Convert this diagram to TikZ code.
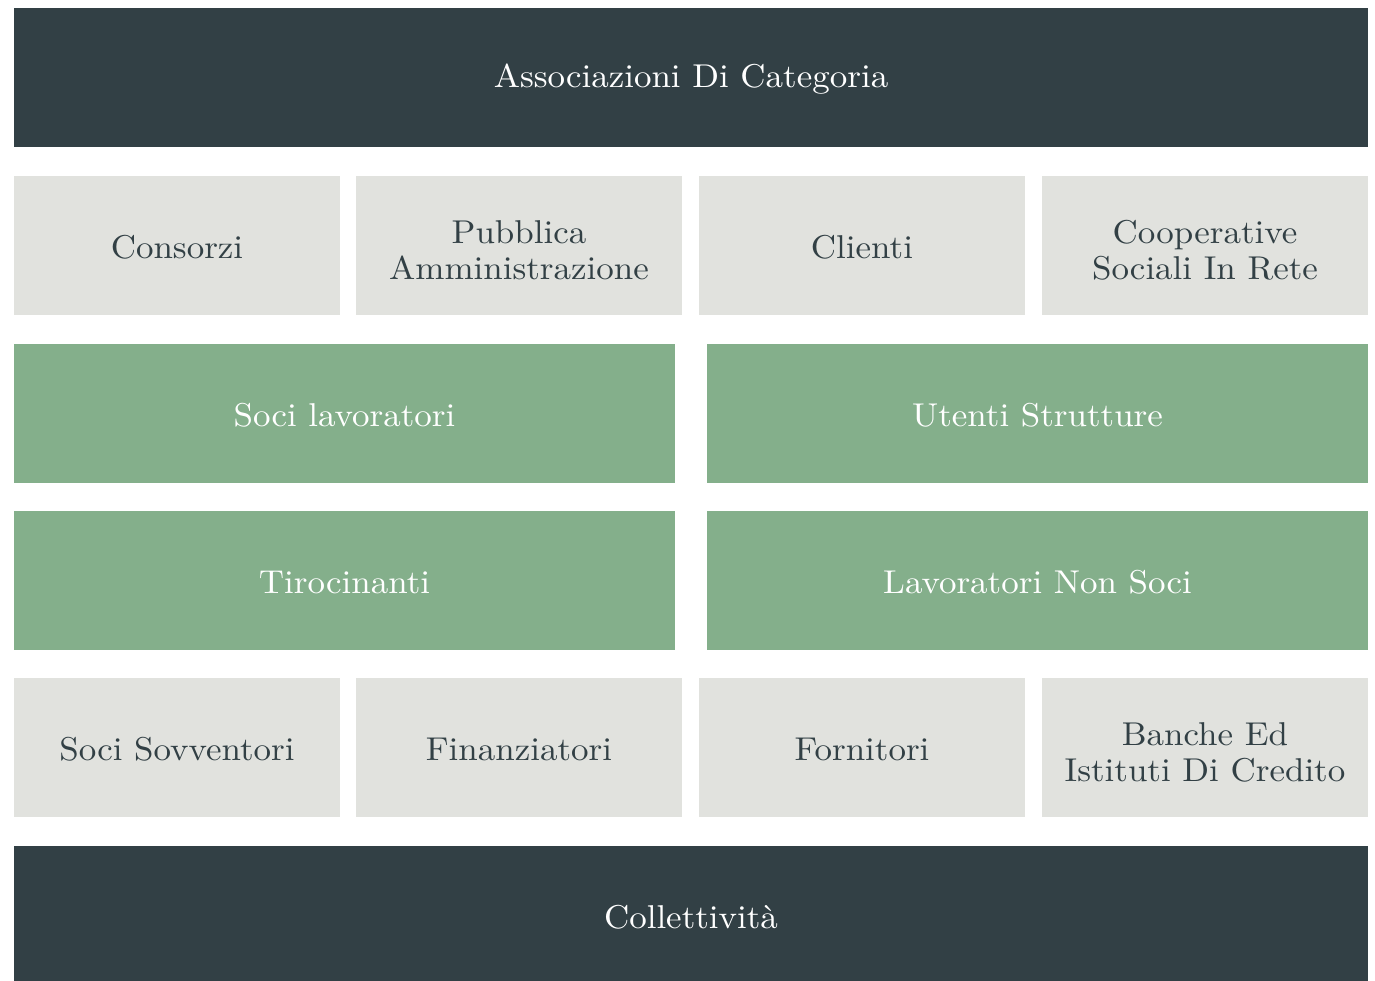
\documentclass[tikz,border=0pt]{standalone}
\usepackage{fontspec}
\newfontfamily\boxfont{lmroman10-regular.otf}[FakeStretch=1.06]
\definecolor{darkbg}{HTML}{324045}
\definecolor{lightbg}{HTML}{E1E2DE}
\definecolor{greenbg}{HTML}{84AF8B}
\begin{document}
\begin{tikzpicture}[x=1pt,y=-1pt,
  box/.style={inner sep=0pt, outer sep=0pt, anchor=north west,
    minimum height=139pt},
  darkbox/.style={box, fill=darkbg, minimum width=1354pt},
  graybox/.style={box, fill=lightbg, minimum width=326pt},
  greenbox/.style={box, fill=greenbg, minimum width=661pt},
  lbl/.style={inner sep=0pt, align=center, font=\boxfont\fontsize{33}{36}\selectfont},
  onel/.style={lbl, yshift=-2pt},
  twol/.style={lbl, yshift=-5pt},
  lt/.style={text=white},
  dt/.style={text=darkbg}]
\useasboundingbox (0,0) rectangle (1375,980);
\fill[white] (0,0) rectangle (1375,980);
\node[darkbox] (assoc) at (14,8) {};
\node[onel,lt] (assoc-t) at (assoc.center) {Associazioni Di Categoria};
\node[graybox] (consorzi) at (14,176) {};
\node[onel,dt] (consorzi-t) at (consorzi.center) {Consorzi};
\node[graybox] (pa) at (356,176) {};
\node[twol,dt] (pa-t) at (pa.center) {Pubblica\\Amministrazione};
\node[graybox] (clienti) at (699,176) {};
\node[onel,dt] (clienti-t) at (clienti.center) {Clienti};
\node[graybox] (coop) at (1042,176) {};
\node[twol,dt] (coop-t) at (coop.center) {Cooperative\\Sociali In Rete};
\node[greenbox] (socilav) at (14,344) {};
\node[onel,lt] (socilav-t) at (socilav.center) {Soci lavoratori};
\node[greenbox] (utenti) at (707,344) {};
\node[onel,lt] (utenti-t) at (utenti.center) {Utenti Strutture};
\node[greenbox] (tiro) at (14,511) {};
\node[onel,lt] (tiro-t) at (tiro.center) {Tirocinanti};
\node[greenbox] (lavnon) at (707,511) {};
\node[onel,lt] (lavnon-t) at (lavnon.center) {Lavoratori Non Soci};
\node[graybox] (sov) at (14,678) {};
\node[onel,dt] (sov-t) at (sov.center) {Soci Sovventori};
\node[graybox] (fin) at (356,678) {};
\node[onel,dt] (fin-t) at (fin.center) {Finanziatori};
\node[graybox] (forn) at (699,678) {};
\node[onel,dt] (forn-t) at (forn.center) {Fornitori};
\node[graybox] (banche) at (1042,678) {};
\node[twol,dt] (banche-t) at (banche.center) {Banche Ed\\Istituti Di Credito};
\node[darkbox] (coll) at (14,846) {};
\node[onel,lt] (coll-t) at (coll.center) {Collettività};
\end{tikzpicture}
\end{document}
